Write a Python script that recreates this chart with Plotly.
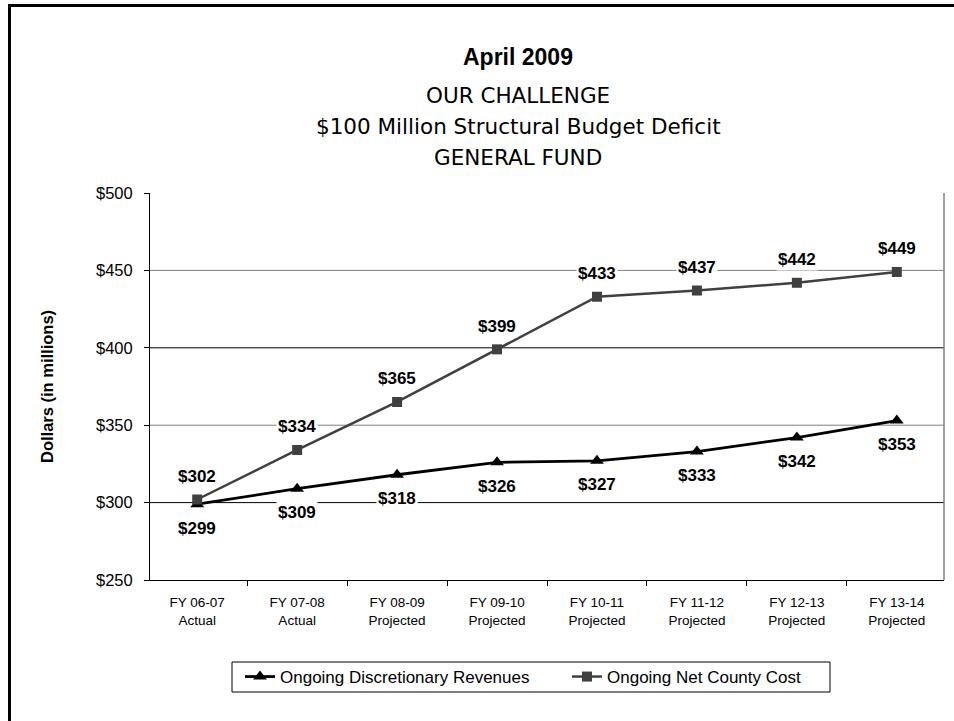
import plotly.graph_objects as go

categories = ["FY 06-07<br>Actual", "FY 07-08<br>Actual", "FY 08-09<br>Projected",
              "FY 09-10<br>Projected", "FY 10-11<br>Projected", "FY 11-12<br>Projected",
              "FY 12-13<br>Projected", "FY 13-14<br>Projected"]
revenues = [299, 309, 318, 326, 327, 333, 342, 353]
net_county_cost = [302, 334, 365, 399, 433, 437, 442, 449]
grid_values = [300, 350, 400, 450]
grid_colors = ["#000000", "#808080", "#000000", "#808080"]

FONT = "Arial, Liberation Sans, sans-serif"
WIDE = "DejaVu Sans, Verdana, sans-serif"

# plot area in pixels
L, R, T, B = 150, 944, 193, 580
PW, PH = R - L, B - T


def px(x):
    return (x - L) / PW


def py(y):
    return (B - y) / PH


fig = go.Figure()
fig.add_trace(go.Scatter(
    x=categories, y=revenues, name="Ongoing Discretionary Revenues",
    mode="lines+markers", line=dict(color="#000000", width=2.8),
    marker=dict(symbol="triangle-up", size=12, color="#000000"), legend="legend"))
fig.add_trace(go.Scatter(
    x=categories, y=net_county_cost, name="Ongoing Net County Cost",
    mode="lines+markers", line=dict(color="#404040", width=2.5),
    marker=dict(symbol="square", size=10, color="#404040"), legend="legend2"))

annotations = []
for c, v in zip(categories, net_county_cost):
    annotations.append(dict(x=c, y=v, xref="x", yref="y", text=f"${v}", showarrow=False,
                            yshift=23, bgcolor="white", borderpad=1,
                            font=dict(family=FONT, size=17, color="#000000", weight="bold")))
for c, v in zip(categories, revenues):
    annotations.append(dict(x=c, y=v, xref="x", yref="y", text=f"${v}", showarrow=False,
                            yshift=-24, bgcolor="white", borderpad=1,
                            font=dict(family=FONT, size=17, color="#000000", weight="bold")))

titles = [("April 2009", 57, 23, "bold", FONT), ("OUR CHALLENGE", 95, 21.5, "normal", WIDE),
          ("$100 Million Structural Budget Deficit", 127, 21.5, "normal", WIDE),
          ("GENERAL FUND", 158, 21.5, "normal", WIDE)]
for t, ypx, sz, wt, fam in titles:
    annotations.append(dict(x=px(518), y=py(ypx), xref="paper", yref="paper", text=t,
                            showarrow=False, xanchor="center", yanchor="middle",
                            font=dict(family=fam, size=sz, color="#000000", weight=wt)))
annotations.append(dict(x=px(47), y=py(386), xref="paper", yref="paper",
                        text="Dollars (in millions)", showarrow=False, textangle=-90,
                        xanchor="center", yanchor="middle",
                        font=dict(family=FONT, size=16.5, color="#000000", weight="bold")))

shapes = []
for gv, gc in zip(grid_values, grid_colors):
    shapes.append(dict(type="line", xref="paper", yref="y", x0=0, x1=1, y0=gv, y1=gv,
                       line=dict(color=gc, width=1), layer="below"))
shapes.append(dict(type="line", xref="paper", yref="paper", x0=1, x1=1, y0=0, y1=1,
                   line=dict(color="#808080", width=1.5)))
# legend box
shapes.append(dict(type="rect", xref="paper", yref="paper", x0=px(232), x1=px(830),
                   y0=py(692), y1=py(662), line=dict(color="#000000", width=1)))
# outer frame (left and top)
shapes.append(dict(type="path", xref="paper", yref="paper",
                   path=f"M {px(9.5)} {py(800)} L {px(9.5)} {py(5.5)} L {px(1100)} {py(5.5)}",
                   line=dict(color="#000000", width=3)))

leg_common = dict(orientation="h", yanchor="middle", y=py(677), xanchor="left",
                  bgcolor="rgba(0,0,0,0)", borderwidth=0,
                  font=dict(family=FONT, size=17, color="#000000"), itemwidth=30)

fig.update_layout(
    width=954, height=721,
    margin=dict(l=L, r=954 - R, t=T, b=721 - B),
    paper_bgcolor="white", plot_bgcolor="white",
    font=dict(family=FONT, color="#000000"),
    showlegend=True,
    legend=dict(x=px(240), **leg_common),
    legend2=dict(x=px(567), **leg_common),
    annotations=annotations, shapes=shapes,
)
fig.update_xaxes(showgrid=False, showline=True, linecolor="#000000", linewidth=1,
                 ticks="outside", ticklen=5, tickcolor="#000000", tickson="boundaries",
                 ticklabelstandoff=10,
                 tickfont=dict(family=FONT, size=13.5, color="#000000"))
fig.update_yaxes(range=[250, 500], dtick=50, tickprefix="$", showgrid=False,
                 showline=True, linecolor="#000000", linewidth=1, zeroline=False,
                 ticks="outside", ticklen=5, tickcolor="#000000", ticklabelstandoff=8,
                 tickfont=dict(family=FONT, size=16.5, color="#000000"))

fig.write_html("out.html")
